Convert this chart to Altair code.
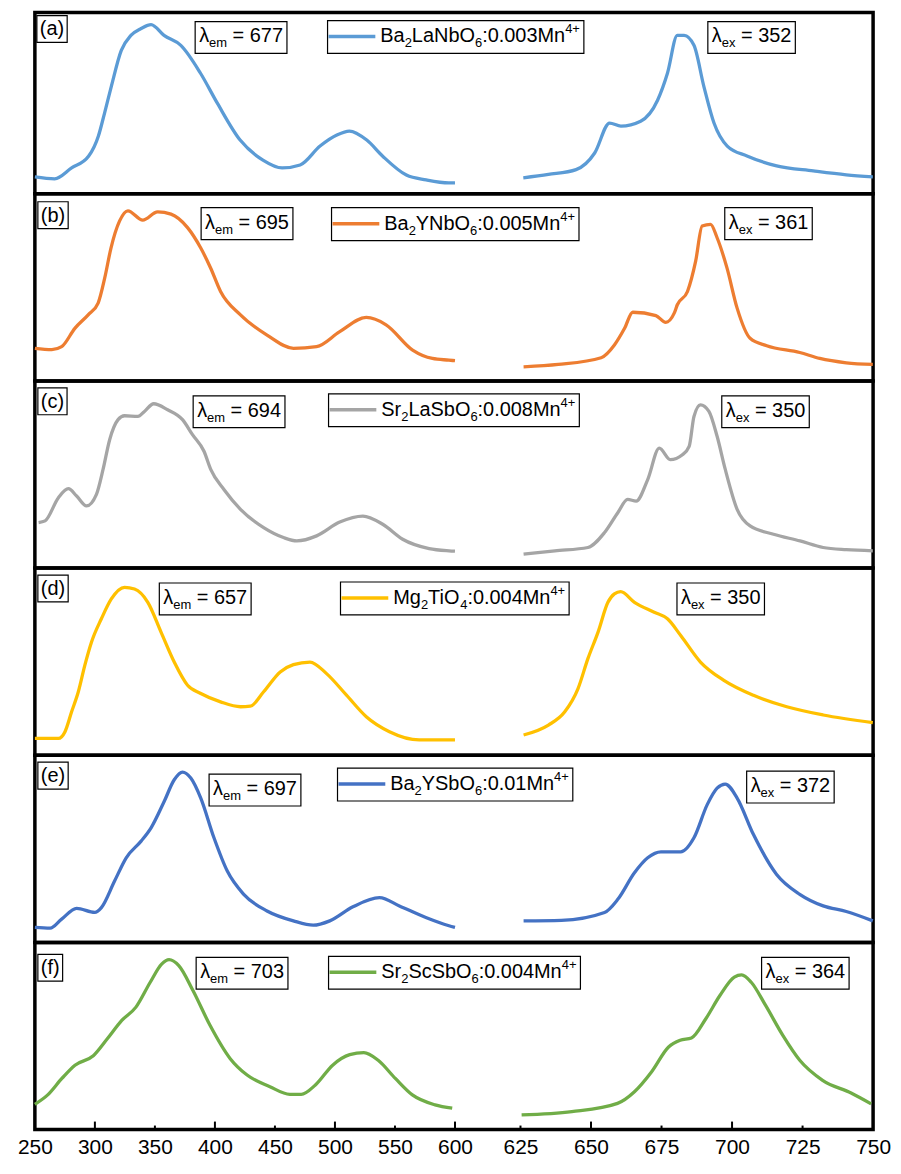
import altair as alt
import pandas as pd

# ---------------- data ----------------
tags = ["(a)", "(b)", "(c)", "(d)", "(e)", "(f)"]
colors = ["#5B9BD5", "#ED7D31", "#A5A5A5", "#FFC000", "#4472C4", "#70AD47"]
lambda_em = [677, 695, 694, 657, 697, 703]
lambda_ex = [352, 361, 350, 350, 372, 364]
phosphors = [
    [("Ba", "n"), ("2", "sub"), ("LaNbO", "n"), ("6", "sub"), (":0.003Mn", "n"), ("4+", "sup")],
    [("Ba", "n"), ("2", "sub"), ("YNbO", "n"), ("6", "sub"), (":0.005Mn", "n"), ("4+", "sup")],
    [("Sr", "n"), ("2", "sub"), ("LaSbO", "n"), ("6", "sub"), (":0.008Mn", "n"), ("4+", "sup")],
    [("Mg", "n"), ("2", "sub"), ("TiO", "n"), ("4", "sub"), (":0.004Mn", "n"), ("4+", "sup")],
    [("Ba", "n"), ("2", "sub"), ("YSbO", "n"), ("6", "sub"), (":0.01Mn", "n"), ("4+", "sup")],
    [("Sr", "n"), ("2", "sub"), ("ScSbO", "n"), ("6", "sub"), (":0.004Mn", "n"), ("4+", "sup")],
]

exc_wl_a = [250, 266.5, 280.6, 294.7, 303, 308, 313.7, 322, 330, 338.5, 346.8, 357.6, 371.6, 388, 402, 421, 440, 456, 471, 487.6, 501.6, 512, 526.5, 539.6, 559.5, 576, 595, 600]
exc_int_a = [0.09, 0.08, 0.138, 0.20, 0.31, 0.43, 0.574, 0.766, 0.846, 0.883, 0.904, 0.846, 0.793, 0.644, 0.484, 0.287, 0.18, 0.138, 0.154, 0.255, 0.314, 0.335, 0.287, 0.202, 0.10, 0.074, 0.058, 0.058]
emi_wl_a = [626, 634.9, 644.7, 651.3, 656.6, 660.6, 667.6, 673.6, 677.1, 680.6, 683, 686.5, 690, 693.6, 698.3, 705.3, 715.8, 728.8, 740.5, 749.9]
emi_int_a = [0.085, 0.103, 0.129, 0.218, 0.378, 0.362, 0.388, 0.5, 0.644, 0.846, 0.846, 0.793, 0.574, 0.378, 0.255, 0.202, 0.149, 0.122, 0.101, 0.09]

exc_wl_b = [250, 264.1, 272.3, 283.3, 294.4, 302.7, 308.2, 313.4, 320.6, 327.5, 339.9, 352.3, 363.4, 377.2, 388.2, 396.5, 404.7, 421.3, 443.4, 465.4, 484.7, 504, 526.1, 542.6, 564.7, 581.2, 595, 600]
exc_int_b = [0.174, 0.167, 0.183, 0.281, 0.353, 0.416, 0.55, 0.71, 0.855, 0.909, 0.859, 0.903, 0.891, 0.819, 0.71, 0.602, 0.478, 0.353, 0.245, 0.174, 0.183, 0.263, 0.339, 0.3, 0.165, 0.12, 0.111, 0.108]
emi_wl_b = [626.1, 638.4, 653.6, 658.3, 661.9, 664.8, 673, 676.5, 679.5, 680.6, 684.2, 687.1, 689.4, 692.4, 694.7, 698.2, 701.8, 706.4, 712.3, 724, 731.1, 740.5, 749.9]
emi_int_b = [0.075, 0.088, 0.124, 0.192, 0.281, 0.367, 0.349, 0.313, 0.362, 0.407, 0.478, 0.64, 0.828, 0.837, 0.765, 0.604, 0.389, 0.228, 0.188, 0.152, 0.12, 0.097, 0.088]

exc_wl_c = [253.1, 258.5, 269.6, 277.9, 284.8, 293, 301.3, 306.8, 312.3, 319.3, 324.7, 335.8, 341.3, 349, 360.6, 373, 381.3, 390.9, 396.5, 407.5, 421.3, 440.6, 457.1, 468.2, 484.7, 504, 523.3, 539.8, 556.4, 578.5, 595, 600]
exc_int_c = [0.243, 0.252, 0.376, 0.424, 0.385, 0.332, 0.394, 0.527, 0.686, 0.793, 0.814, 0.81, 0.837, 0.878, 0.846, 0.793, 0.713, 0.624, 0.527, 0.42, 0.314, 0.216, 0.163, 0.145, 0.172, 0.246, 0.278, 0.234, 0.154, 0.104, 0.092, 0.09]
emi_wl_c = [626.1, 637.2, 648.9, 654.8, 659.5, 663, 666, 670.1, 674.2, 678.1, 682.4, 684.8, 686.5, 688.8, 691.8, 694.7, 697.6, 701.8, 706.4, 714.7, 724.1, 732.3, 740.5, 749.9]
emi_int_c = [0.074, 0.092, 0.11, 0.19, 0.296, 0.367, 0.358, 0.473, 0.641, 0.58, 0.606, 0.65, 0.81, 0.872, 0.837, 0.704, 0.527, 0.314, 0.225, 0.181, 0.145, 0.11, 0.098, 0.092]

exc_wl_d = [250, 269.6, 275.1, 280.6, 286.2, 291.6, 297.2, 305.4, 313.7, 324.7, 333, 344.1, 355.1, 366.1, 377.2, 388.2, 404.7, 421.3, 429.5, 440.6, 454.4, 465.4, 479.2, 493, 509.6, 526.1, 545.4, 570.2, 595, 600]
exc_int_d = [0.09, 0.09, 0.126, 0.232, 0.339, 0.48, 0.605, 0.729, 0.835, 0.897, 0.888, 0.817, 0.658, 0.498, 0.374, 0.33, 0.285, 0.259, 0.262, 0.339, 0.445, 0.484, 0.498, 0.436, 0.321, 0.206, 0.126, 0.082, 0.082, 0.082]
emi_wl_d = [626.1, 634.9, 640.7, 645.4, 648.9, 652.5, 656, 658.3, 660.5, 665.4, 672.4, 677.1, 681.8, 688.8, 697.1, 707.6, 719.4, 732.3, 749.9]
emi_int_d = [0.108, 0.161, 0.232, 0.356, 0.516, 0.658, 0.817, 0.862, 0.874, 0.817, 0.764, 0.729, 0.64, 0.498, 0.4, 0.32, 0.259, 0.215, 0.174]

exc_wl_e = [250, 262.7, 272.3, 284.8, 299.9, 305.4, 316.4, 326.1, 338.5, 346.8, 357.8, 366.1, 373, 379.9, 388.2, 399.2, 410.3, 424, 443.4, 465.4, 481.9, 495.7, 515, 537.1, 553.7, 575.7, 595, 600]
exc_int_e = [0.08, 0.076, 0.124, 0.182, 0.16, 0.186, 0.328, 0.452, 0.541, 0.612, 0.754, 0.869, 0.91, 0.878, 0.771, 0.559, 0.381, 0.257, 0.168, 0.115, 0.092, 0.115, 0.19, 0.239, 0.195, 0.133, 0.089, 0.08]
emi_wl_e = [626.1, 639.5, 654.8, 659.5, 665.4, 670.1, 674.8, 681.8, 686.5, 691.2, 694.7, 697.6, 701.8, 707.6, 715.8, 724, 732.3, 740.5, 749.9]
emi_int_e = [0.115, 0.118, 0.16, 0.23, 0.372, 0.452, 0.484, 0.484, 0.559, 0.736, 0.824, 0.846, 0.771, 0.576, 0.363, 0.257, 0.195, 0.165, 0.115]

exc_wl_f = [250, 260.7, 272.5, 283.4, 298.7, 310.5, 322.4, 334.2, 346.1, 355.6, 361.8, 369.9, 381.7, 395.9, 412.6, 426.8, 445.8, 462.4, 471.9, 483.7, 498.1, 512.3, 524.1, 536, 550.3, 564.5, 583.4, 597.7]
exc_int_f = [0.135, 0.185, 0.273, 0.344, 0.394, 0.486, 0.583, 0.654, 0.787, 0.884, 0.908, 0.876, 0.743, 0.557, 0.38, 0.291, 0.229, 0.188, 0.188, 0.238, 0.344, 0.4, 0.411, 0.37, 0.273, 0.185, 0.132, 0.114]
emi_wl_f = [625.4, 643.2, 659.4, 665.4, 671.5, 677.5, 681.6, 685.6, 690.7, 695.7, 700.8, 703.4, 706.8, 711.9, 718, 724, 732.1, 742.2, 749.3]
emi_int_f = [0.078, 0.096, 0.14, 0.202, 0.309, 0.441, 0.477, 0.489, 0.592, 0.716, 0.814, 0.826, 0.787, 0.663, 0.503, 0.37, 0.263, 0.195, 0.137]

exc_wl = [exc_wl_a, exc_wl_b, exc_wl_c, exc_wl_d, exc_wl_e, exc_wl_f]
exc_int = [exc_int_a, exc_int_b, exc_int_c, exc_int_d, exc_int_e, exc_int_f]
emi_wl = [emi_wl_a, emi_wl_b, emi_wl_c, emi_wl_d, emi_wl_e, emi_wl_f]
emi_int = [emi_int_a, emi_int_b, emi_int_c, emi_int_d, emi_int_e, emi_int_f]

tick_labels = [250, 300, 350, 400, 450, 500, 550, 600, 625, 650, 675, 700, 725, 750]
ticks_major = [300, 400, 500, 600, 650, 700]
ticks_minor = [350, 450, 550, 625, 675, 725]

# ---------------- layout / style ----------------
X_DOMAIN = [250, 600, 625, 750]
PLOT_W = 842
X_RANGE = [0, 422, 487.8, PLOT_W]
PANEL_H = [182, 188, 188, 188, 188, 188]
Y_TOP = [182 / 188, 1, 1, 1, 1, 1]
FS, FS_SMALL = 20, 13
SUB_DY, SUP_DY = 5, -9
TEXT_FONT = "Liberation Sans"
AXIS_FONT = "Liberation Sans"

tag_box_x = [2, 3, 3, 3, 3, 3]
tag_box_y = [3, 8, 7, 7, 7, 12]
em_box_x = [161, 167, 159, 125, 175, 162]
em_box_y = [9, 14, 15, 15, 19, 15]
leg_box_x = [294, 298, 295, 307, 304, 295]
leg_box_y = [8, 14, 13, 14, 13, 14]
ex_box_x = [676, 693, 690, 645, 715, 730]
ex_box_y = [9, 14, 15, 15, 16, 15]

ARIAL = {' ': 278, '(': 333, ')': 333, '=': 584, '.': 278, ':': 278, '+': 584, 'λ': 500}
for ch in "0123456789":
    ARIAL[ch] = 556
ARIAL.update(dict(zip("ABCDEFGHIJKLMNOPQRSTUVWXYZ",
                      [667, 667, 722, 722, 667, 611, 778, 722, 278, 500, 667, 556, 833, 722, 778, 667, 778, 722, 667, 611, 722, 667, 944, 667, 667, 611])))
ARIAL.update(dict(zip("abcdefghijklmnopqrstuvwxyz",
                      [556, 556, 500, 556, 556, 278, 556, 556, 222, 222, 500, 222, 833, 556, 556, 556, 556, 333, 500, 278, 556, 500, 722, 500, 500, 500])))


def text_w(s, size):
    return sum(ARIAL.get(c, 556) for c in s) * size / 1000.0


def add_rich(rows, parts, x0, base):
    x = x0
    for txt, kind in parts:
        size = FS if kind == "n" else FS_SMALL
        dy = 0 if kind == "n" else (SUB_DY if kind == "sub" else SUP_DY)
        s = txt.lstrip(" ")
        x += text_w(txt[:len(txt) - len(s)], size)
        rows.append({"px": x, "py": base + dy, "t": s, "fs": size})
        x += text_w(s, size)
    return x


def panel(i):
    H = PANEL_H[i]
    bottom = (i == 5)
    rows = []
    for w, v in zip(exc_wl[i], exc_int[i]):
        rows.append({"wl": w, "val": v, "part": "exc"})
    for w, v in zip(emi_wl[i], emi_int[i]):
        rows.append({"wl": w, "val": v, "part": "emi"})
    df = pd.DataFrame(rows)

    xs = alt.Scale(domain=X_DOMAIN, range=X_RANGE)
    if bottom:
        xaxis = alt.Axis(values=tick_labels, domain=False, ticks=False, grid=False,
                         labelFont=AXIS_FONT, labelFontSize=21, labelColor="black",
                         labelPadding=7, labelFlush=False, labelOverlap=False,
                         labelBound=False, title=None, format="d")
    else:
        xaxis = None

    layers = []
    lines = alt.Chart(df).mark_line(color=colors[i], strokeWidth=3.3, interpolate="monotone").encode(
        x=alt.X("wl:Q", scale=xs, axis=xaxis),
        y=alt.Y("val:Q", scale=alt.Scale(domain=[0, Y_TOP[i]]), axis=None),
        detail="part:N",
    )
    layers.append(lines)

    if bottom:
        for vals, ln in ((ticks_major, 8), (ticks_minor, 4)):
            layers.append(
                alt.Chart(pd.DataFrame({"wl": vals})).mark_rule(color="black", strokeWidth=2).encode(
                    x=alt.X("wl:Q", scale=xs, axis=None),
                    y=alt.value(H), y2=alt.value(H - ln)))

    texts = []
    boxes = []
    tx0, ty0 = tag_box_x[i], tag_box_y[i]
    tend = add_rich(texts, [(tags[i], "n")], tx0 + 3, ty0 + 20)
    boxes.append({"x": tx0, "x2": tend + 3, "y": ty0, "y2": ty0 + 27})
    ex0, ey0 = em_box_x[i], em_box_y[i]
    eend = add_rich(texts, [("λ", "n"), ("em", "sub"), (" = %d" % lambda_em[i], "n")], ex0 + 4, ey0 + 21)
    boxes.append({"x": ex0, "x2": eend + 4, "y": ey0, "y2": ey0 + 32})
    lx0, ly0 = leg_box_x[i], leg_box_y[i]
    lend = add_rich(texts, phosphors[i], lx0 + 53, ly0 + 22)
    boxes.append({"x": lx0, "x2": lend + 4, "y": ly0, "y2": ly0 + 33})
    xx0, xy0 = ex_box_x[i], ex_box_y[i]
    xend = add_rich(texts, [("λ", "n"), ("ex", "sub"), (" = %d" % lambda_ex[i], "n")], xx0 + 4, xy0 + 21)
    boxes.append({"x": xx0, "x2": xend + 4, "y": xy0, "y2": xy0 + 32})

    layers.append(
        alt.Chart(pd.DataFrame(boxes)).mark_rect(fill="white", stroke="black", strokeWidth=1.2).encode(
            x=alt.X("x:Q", scale=None, axis=None), x2="x2:Q",
            y=alt.Y("y:Q", scale=None, axis=None), y2="y2:Q"))
    layers.append(
        alt.Chart(pd.DataFrame([{"x": lx0 + 1, "x2": lx0 + 48, "y": ly0 + 16}])).mark_rule(
            color=colors[i], strokeWidth=3.5).encode(
            x=alt.X("x:Q", scale=None, axis=None), x2="x2:Q",
            y=alt.Y("y:Q", scale=None, axis=None)))
    layers.append(
        alt.Chart(pd.DataFrame(texts)).mark_text(align="left", baseline="alphabetic",
                                                 font=TEXT_FONT, color="black").encode(
            x=alt.X("px:Q", scale=None, axis=None),
            y=alt.Y("py:Q", scale=None, axis=None),
            text="t:N",
            size=alt.Size("fs:Q", scale=None, legend=None)))
    if bottom:
        layers.append(
            alt.Chart(pd.DataFrame([{"x": -25, "x2": -24, "y": H, "y2": H + 1}])).mark_rect(opacity=0).encode(
                x=alt.X("x:Q", scale=None, axis=None), x2="x2:Q",
                y=alt.Y("y:Q", scale=None, axis=None), y2="y2:Q"))

    return alt.layer(*layers).resolve_scale(x="independent", y="independent").properties(
        width=PLOT_W, height=H)


chart = alt.vconcat(*[panel(i) for i in range(6)], spacing=0, bounds="flush").properties(
    padding={"left": 0, "top": 0, "right": 0, "bottom": 0}
).configure_view(stroke="black", strokeWidth=3.5).configure_concat(spacing=0)

chart.save("out.html", embed_options={"renderer": "svg", "actions": False})
